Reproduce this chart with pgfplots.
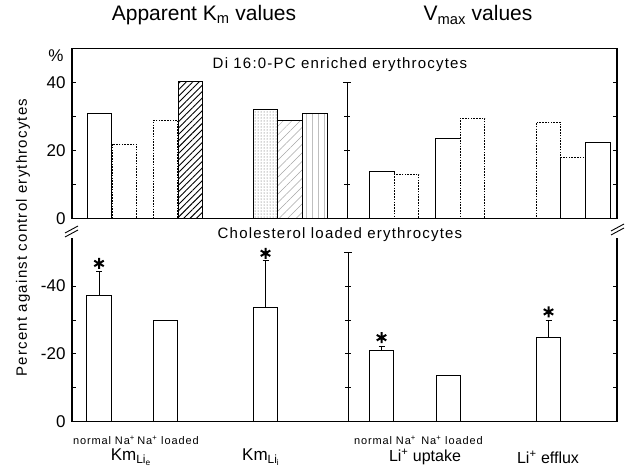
\documentclass[border=0pt]{standalone}
\usepackage{fontspec}
\setmainfont{Liberation Sans}
\usepackage{pgfplots}
\pgfplotsset{compat=1.18}
\usetikzlibrary{patterns,patterns.meta}
\newcommand{\fs}[1]{\fontsize{#1}{#1}\selectfont}
\newcommand{\ls}{\addfontfeatures{LetterSpace=8}}
\pgfplotsset{
  base/.style={scale only axis, width=545pt, xmin=72, xmax=617, xtick=\empty, clip=false,
    axis line style={line width=1.1pt},
    every tick/.style={black, line width=0.9pt}, major tick length=4pt,
    yticklabel style={font=\fs{17}, xshift=-3pt},
    bar width=24.5},
  bb/.style={ybar, bar shift=0pt, draw=black, line width=0.8pt, fill=white},
  bd/.style={bb, dash pattern=on 1.6pt off 1.2pt},
}
\begin{document}
\begin{tikzpicture}
\path[use as bounding box] (0,0) rectangle (626pt,472pt);
% ---------- top panel ----------
\begin{axis}[base, at={(72pt,253.7pt)}, anchor=south west, height=169.5pt,
  ymin=0, ymax=50, ytick={0,10,20,30,40}, yticklabels={0,,20,,40}]
\addplot[bb] coordinates {(99.5,30.9)};
\addplot[bd] coordinates {(124.2,21.9)};
\addplot[bd] coordinates {(165.5,28.9)};
\addplot[bb, fill=none, pattern={Lines[angle=45,distance=4.5pt,line width=0.9pt]}] coordinates {(190.5,40.4)};
\addplot[bb, fill=none, pattern=dots, pattern color=black!70] coordinates {(265.5,32.0)};
\addplot[bb, fill=none, pattern={Lines[angle=45,distance=6pt,line width=0.5pt]}, pattern color=black!35] coordinates {(290,28.9)};
\addplot[bb, fill=none, pattern={Lines[angle=90,distance=6pt,line width=0.6pt]}, pattern color=black!25] coordinates {(315,30.9)};
\addplot[bb] coordinates {(381.8,13.8)};
\addplot[bd] coordinates {(406.6,13.0)};
\addplot[bb] coordinates {(448,23.5)};
\addplot[bd] coordinates {(472.6,29.5)};
\addplot[bd] coordinates {(548.3,28.3)};
\addplot[bd] coordinates {(572.8,18.1)};
\addplot[bb] coordinates {(597.8,22.3)};
\draw[line width=1pt] (axis cs:347,0) -- (axis cs:347,40);
\draw[line width=1pt] ([xshift=-4pt]axis cs:347,40) -- ([xshift=4pt]axis cs:347,40);
\pgfplotsinvokeforeach{10,20,30}{\draw[line width=0.9pt] ([xshift=-3pt]axis cs:347,#1) -- ([xshift=3pt]axis cs:347,#1);}
\node[font=\fs{15}] at (axis cs:340,45.2) {\ls Di 16:0-PC enriched erythrocytes};
\end{axis}
% ---------- bottom panel ----------
\begin{axis}[base, at={(72pt,50.3pt)}, anchor=south west, height=183.7pt,
  ymin=-54.2, ymax=0, y dir=reverse, separate axis lines, x axis line style={draw=none},
  ytick={-40,-30,-20,-10,0}, yticklabels={-40,,-20,,0}]
\addplot[bb, error bars/.cd, y dir=minus, y explicit, error bar style={line width=0.8pt}, error mark options={rotate=90, mark size=3pt, line width=0.8pt}]
  coordinates {(99,-37.3) +- (0,7.1)};
\addplot[bb] coordinates {(165.5,-29.9)};
\addplot[bb, error bars/.cd, y dir=minus, y explicit, error bar style={line width=0.8pt}, error mark options={rotate=90, mark size=3pt, line width=0.8pt}]
  coordinates {(265.5,-33.6) +- (0,13.9)};
\addplot[bb, error bars/.cd, y dir=minus, y explicit, error bar style={line width=0.8pt}, error mark options={rotate=90, mark size=3pt, line width=0.8pt}]
  coordinates {(381.5,-21.0) +- (0,1.3)};
\addplot[bb] coordinates {(448.5,-13.8)};
\addplot[bb, error bars/.cd, y dir=minus, y explicit, error bar style={line width=0.8pt}, error mark options={rotate=90, mark size=3pt, line width=0.8pt}]
  coordinates {(548.5,-25.0) +- (0,4.9)};
\addplot[only marks, mark=asterisk, mark size=5.5pt, line width=2pt, black]
  coordinates {(99,-46.7) (265.5,-49.7) (381.5,-24.8) (548.5,-32.4)};
\draw[line width=1.1pt] (axis cs:72,0) -- (axis cs:617,0);
\draw[line width=1pt] (axis cs:348,0) -- (axis cs:348,-50);
\draw[line width=1pt] ([xshift=-4pt]axis cs:348,-50) -- ([xshift=4pt]axis cs:348,-50);
\pgfplotsinvokeforeach{-10,-20,-30,-40}{\draw[line width=0.9pt] ([xshift=-3pt]axis cs:348,#1) -- ([xshift=3pt]axis cs:348,#1);}
\node[font=\fs{15}] at (axis cs:340,-55.1) {\ls Cholesterol loaded erythrocytes};
\end{axis}
% ---------- break marks ----------
\draw[line width=0.9pt] (65pt,235pt) -- (78pt,242pt);
\draw[line width=0.9pt] (65pt,239pt) -- (78pt,246pt);
\draw[line width=0.9pt] (611pt,237pt) -- (624pt,244pt);
\draw[line width=0.9pt] (611pt,241pt) -- (624pt,248pt);
% ---------- texts ----------
\node[font=\fs{21}] at (204pt,457pt) {Apparent K\textsubscript{m} values};
\node[font=\fs{21}] at (478pt,457pt) {V\textsubscript{max} values};
\node[font=\fs{17}] at (56pt,416pt) {\%};
\node[font=\fs{15}, rotate=90] at (23pt,234.5pt) {\ls Percent against control erythrocytes};
\node[font=\fs{11}] at (104pt,32pt) {\ls normal Na\textsuperscript{+}};
\node[font=\fs{11}] at (168pt,32pt) {\ls Na\textsuperscript{+} loaded};
\node[font=\fs{11}] at (385pt,32pt) {\ls normal Na\textsuperscript{+}};
\node[font=\fs{11}] at (452pt,32pt) {\ls Na\textsuperscript{+} loaded};
\node[font=\fs{17}] at (131pt,15pt) {Km\textsubscript{Li\textsubscript{e}}};
\node[font=\fs{17}] at (261pt,15pt) {Km\textsubscript{Li\textsubscript{i}}};
\node[font=\fs{16}] at (425pt,15pt) {Li\textsuperscript{+} uptake};
\node[font=\fs{16}] at (548pt,15pt) {Li\textsuperscript{+} efflux};
\end{tikzpicture}
\end{document}
